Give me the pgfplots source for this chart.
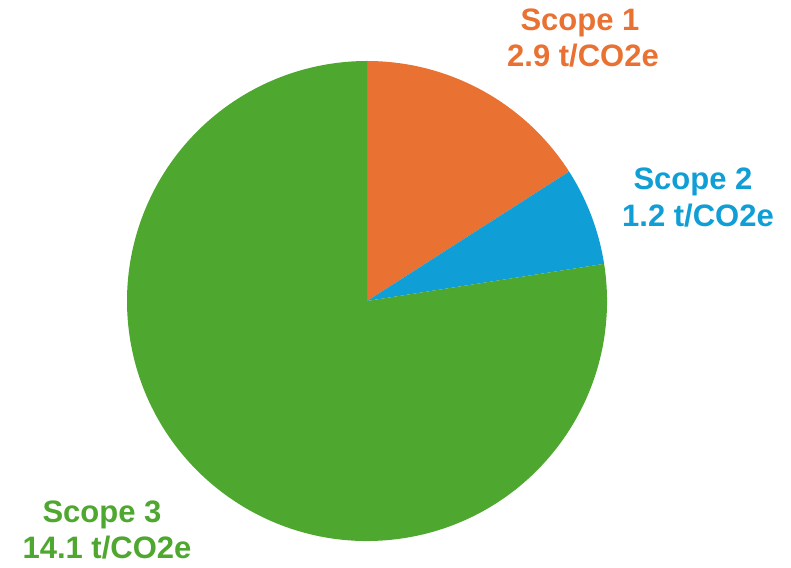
\documentclass[border=0pt]{standalone}
\usepackage{pgfplots}
\pgfplotsset{compat=1.18}
\usepackage{pgfplotstable}
\usepackage{fontspec}
\setmainfont{Liberation Sans}
\definecolor{sOne}{HTML}{E97132}
\definecolor{sTwo}{HTML}{0F9ED5}
\definecolor{sThree}{HTML}{4EA72E}
\pgfplotstableread{
scope value
1 2.9
2 1.2
3 14.1
}\piedata
\begin{document}
\begin{tikzpicture}
\pgfplotstablegetelem{0}{value}\of\piedata \let\vA\pgfplotsretval
\pgfplotstablegetelem{1}{value}\of\piedata \let\vB\pgfplotsretval
\pgfplotstablegetelem{2}{value}\of\piedata \let\vC\pgfplotsretval
\pgfmathsetmacro\tot{\vA+\vB+\vC}
\pgfmathsetmacro\aA{90-360*\vA/\tot}
\pgfmathsetmacro\aB{\aA-360*\vB/\tot}
\pgfmathsetmacro\aC{\aB-360*\vC/\tot}
\begin{axis}[
  width=791pt, height=567pt, scale only axis,
  xmin=0, xmax=791, ymin=0, ymax=567,
  hide axis, clip=false,
]
\coordinate (sw) at (rel axis cs:0,0);
\coordinate (ne) at (rel axis cs:1,1);
\fill[sOne] (axis cs:367,266) -- ++(90:240pt) arc[start angle=90, end angle=\aA, radius=240pt] -- cycle;
\fill[sTwo] (axis cs:367,266) -- ++(\aA:240pt) arc[start angle=\aA, end angle=\aB, radius=240pt] -- cycle;
\fill[sThree] (axis cs:367,266) -- ++(\aB:240pt) arc[start angle=\aB, end angle=\aC, radius=240pt] -- cycle;
\begin{scope}[every node/.style={anchor=base, inner sep=0pt, font=\fontsize{31}{36}\selectfont\bfseries}]
\node[text=sOne] at (axis cs:580,536) {Scope 1};
\node[text=sOne] at (axis cs:583,500) {2.9 t/CO2e};
\node[text=sTwo] at (axis cs:693,377) {Scope 2};
\node[text=sTwo] at (axis cs:698,340) {1.2 t/CO2e};
\node[text=sThree] at (axis cs:102,45) {Scope 3};
\node[text=sThree] at (axis cs:107,9) {14.1 t/CO2e};
\end{scope}
\end{axis}
\pgfresetboundingbox
\path[use as bounding box] (sw) rectangle (ne);
\end{tikzpicture}
\end{document}
